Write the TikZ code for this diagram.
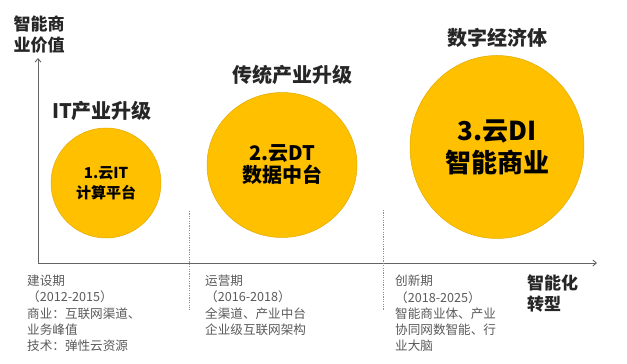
\documentclass[tikz,border=0pt]{standalone}
\usepackage{fontspec}
\setmainfont{Noto Sans CJK SC}
\usepackage{xcolor}
\usetikzlibrary{positioning, shapes.geometric, arrows.meta}

\definecolor{gold}{RGB}{255,192,0}
\definecolor{goldedge}{RGB}{226,170,0}
\definecolor{axisgray}{RGB}{100,100,100}
\definecolor{notegray}{RGB}{90,90,90}
\definecolor{titlegray}{RGB}{38,38,38}

\begin{document}
\begin{tikzpicture}[
    x=1pt, y=1pt,
    bubble/.style={
        ellipse, draw=goldedge, line width=0.5pt, fill=gold,
        align=center, inner sep=0pt, text=black
    },
    stage/.style={
        font=\fontsize{20}{24}\selectfont\bfseries, text=titlegray, inner sep=0pt
    },
    note/.style={
        font=\fontsize{12.6}{16.2}\selectfont, text=notegray,
        align=left, anchor=north west, inner sep=0pt
    },
    axislabel/.style={
        font=\fontsize{17}{21}\selectfont\bfseries, text=titlegray,
        align=left, inner sep=0pt
    },
    axis/.style={-{Straight Barb[length=3.5pt, width=6pt]}, draw=axisgray, line width=0.9pt},
    divider/.style={draw=axisgray!70, dash pattern=on 1.2pt off 1.2pt, line width=0.9pt}
]
\useasboundingbox (0,0) rectangle (627,364);

% 坐标轴
\coordinate (origin) at (38,101);
\coordinate (ytop) at (38,306);
\coordinate (xend) at (597,101);
\draw[axis] (origin) -- (ytop);
\draw[axis] (origin) -- (xend);

\node[axislabel, anchor=center] (yname) at (39,329) {智能商\\业价值};
\node[axislabel, anchor=west] (xname) at (527,70) {智能化\\转型};

% 分隔虚线
\coordinate (d1top) at (189,153);
\coordinate (d1bot) at (189,54);
\coordinate (d2top) at (383,154);
\coordinate (d2bot) at (383,54);
\draw[divider] (d1top) -- (d1bot);
\draw[divider] (d2top) -- (d2bot);

% 三个阶段
\node[bubble, minimum width=110pt, minimum height=110pt,
    font=\fontsize{15}{20}\selectfont\bfseries] (cloudit) at (106,181) {1.云IT\\计算平台};
\node[bubble, minimum width=150pt, minimum height=145pt,
    font=\fontsize{20}{22}\selectfont\bfseries] (clouddt) at (282,199) {2.云DT\\数据中台};
\node[bubble, minimum width=174pt, minimum height=183pt,
    font=\fontsize{26}{32}\selectfont\bfseries] (clouddi) at (497,217) {3.云DI\\智能商业};

\node[stage, above=7pt of cloudit, xshift=-4pt] (itup) {IT产业升级};
\node[stage, above=7pt of clouddt, xshift=10pt] (tradup) {传统产业升级};
\node[stage, above=8pt of clouddi] (digital) {数字经济体};

% 说明文本
\node[note] (build) at (27,89) {建设期\\（2012-2015）\\商业：互联网渠道、\\业务峰值\\技术：弹性云资源};
\node[note] (operate) at (205,89) {运营期\\（2016-2018）\\全渠道、产业中台\\企业级互联网架构};
\node[note] (innovate) at (395,89) {创新期\\（2018-2025）\\智能商业体、产业\\协同网数智能、行\\业大脑};

\end{tikzpicture}
\end{document}
